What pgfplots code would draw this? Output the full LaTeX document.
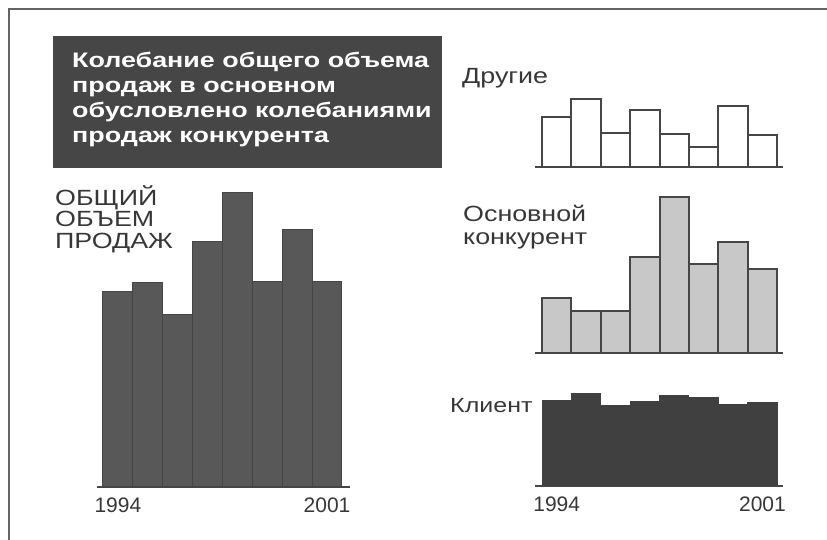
\documentclass[border=0pt]{standalone}
\usepackage{fontspec}
\setmainfont{Liberation Sans}
\newfontfamily\widefont[FakeStretch=1.22]{Liberation Sans}
\newfontfamily\titlefont[FakeStretch=1.28]{Liberation Sans}
\usepackage{pgfplots}
\pgfplotsset{compat=1.18}

\definecolor{framegray}{RGB}{100,100,100}
\definecolor{boxgray}{RGB}{70,70,70}
\definecolor{totalgray}{RGB}{88,88,88}
\definecolor{clientgray}{RGB}{64,64,64}
\definecolor{compgray}{RGB}{200,200,200}
\definecolor{linegray}{RGB}{70,70,70}
\definecolor{textgray}{RGB}{55,55,55}

\pgfplotsset{
  minichart/.style={
    scale only axis,
    axis x line*=bottom, axis y line=none,
    ymin=0, ytick=\empty,
    xmin=-0.74, xmax=7.7,
    major tick length=0pt,
    axis line style={line width=2pt, color=linegray},
    bar width=1, clip=false,
    xticklabel style={font=\fontsize{21}{21}\selectfont, text=textgray, yshift=-7pt},
  },
  years/.style={xtick={0,7}, xticklabels={1994,2001}},
  noyears/.style={xtick=\empty},
}

\begin{document}
\begin{tikzpicture}[x=1pt,y=1pt]
\useasboundingbox (0,0) rectangle (827,540);
% frame
\draw[framegray, line width=2pt] (9,0) -- (9,531) -- (827,531);

% title box
\fill[boxgray] (53,372) rectangle (442,504);
\begin{scope}[every node/.style={anchor=base west, inner sep=0pt, text=white,
    font=\titlefont\bfseries\fontsize{21}{25}\selectfont}]
  \node at (72,472) {Колебание общего объема};
  \node at (72,447) {продаж в основном};
  \node at (72,422) {обусловлено колебаниями};
  \node at (72,397) {продаж конкурента};
\end{scope}

% series labels
\begin{scope}[every node/.style={anchor=base west, inner sep=0pt, text=textgray,
    font=\widefont\fontsize{22}{22}\selectfont}]
  \node at (55,334) {ОБЩИЙ};
  \node at (55,313) {ОБЪЕМ};
  \node at (55,291) {ПРОДАЖ};
  \node at (462,456) {Другие};
  \node at (463,318) {Основной};
  \node at (463,295) {конкурент};
  \node[font=\widefont\fontsize{20.5}{20.5}\selectfont] at (450,127) {Клиент};
\end{scope}

% total sales
\begin{axis}[minichart, years, at={(97pt,53pt)}, anchor=south west,
    width=253pt, height=300pt, ymax=300, xmin=-0.7, xmax=7.77]
  \addplot[ybar, fill=totalgray, draw=linegray, line width=1pt]
    coordinates {(0,195)(1,204)(2,172)(3,245)(4,294)(5,205)(6,257)(7,205)};
\end{axis}

% others
\begin{axis}[minichart, noyears, at={(535pt,373pt)}, anchor=south west,
    width=248pt, height=75pt, ymax=75]
  \addplot[ybar, fill=white, draw=linegray, line width=2pt]
    coordinates {(0,50)(1,68)(2,34)(3,57)(4,33)(5,20)(6,61)(7,32)};
\end{axis}

% main competitor
\begin{axis}[minichart, noyears, at={(535pt,187pt)}, anchor=south west,
    width=248pt, height=160pt, ymax=160]
  \addplot[ybar, fill=compgray, draw=linegray, line width=2pt]
    coordinates {(0,55)(1,42)(2,42)(3,96)(4,156)(5,89)(6,111)(7,84)};
\end{axis}

% client
\begin{axis}[minichart, years, at={(535pt,54pt)}, anchor=south west,
    width=248pt, height=95pt, ymax=95]
  \addplot[ybar, fill=clientgray, draw=clientgray, line width=1pt]
    coordinates {(0,85)(1,92)(2,80)(3,84)(4,90)(5,88)(6,81)(7,83)};
\end{axis}
\end{tikzpicture}
\end{document}
